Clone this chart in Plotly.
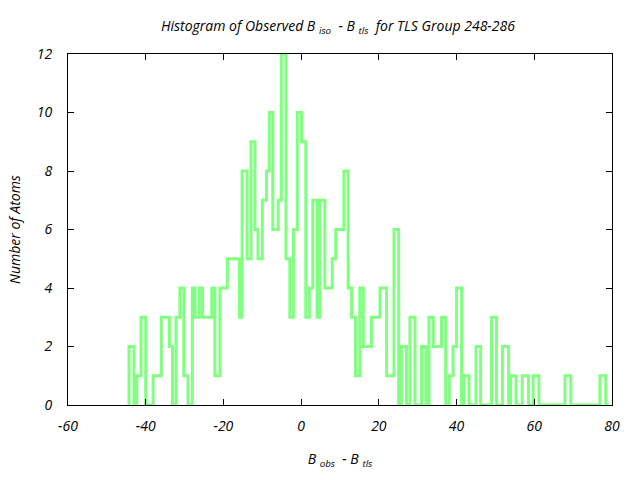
import plotly.graph_objects as go

# Bin edges (B_obs - B_tls) and atom counts
bin_edges = [-44.3, -43.0, -42.3, -41.2, -40.0, -38.1, -36.0, -33.9, -33.1, -32.2,
             -31.2, -30.2, -29.1, -28.0, -27.3, -26.2, -25.4, -23.0, -22.2, -20.9,
             -19.0, -15.9, -15.2, -13.9, -12.9, -11.9, -11.1, -10.0, -8.9, -8.2,
             -7.3, -5.9, -5.1, -3.9, -2.9, -2.0, -1.0, 0.1, 1.2, 2.1,
             3.0, 4.1, 4.8, 6.1, 8.0, 8.9, 11.0, 12.1, 13.0, 14.0,
             15.1, 16.0, 18.1, 20.3, 22.0, 23.9, 25.1, 25.8, 27.1, 28.0,
             29.3, 31.0, 32.1, 32.9, 34.0, 36.1, 37.2, 38.1, 39.1, 40.0,
             41.3, 41.9, 43.2, 45.0, 46.2, 49.0, 50.3, 51.8, 53.4, 53.9,
             55.3, 56.9, 58.5, 59.7, 61.2, 67.9, 69.4, 76.9, 78.4, 79.2]

counts = [2, 0, 1, 3, 0, 1, 3, 2, 0, 3,
          4, 1, 0, 4, 3, 4, 3, 4, 1, 4,
          5, 3, 8, 5, 9, 6, 5, 7, 8, 10,
          6, 7, 12, 5, 3, 6, 10, 9, 3, 4,
          7, 3, 7, 4, 5, 6, 8, 4, 3, 1,
          4, 2, 3, 4, 1, 6, 0, 2, 0, 3,
          0, 2, 0, 3, 2, 3, 0, 1, 2, 4,
          0, 1, 0, 2, 0, 3, 0, 2, 0, 1,
          0, 1, 0, 1, 0, 1, 0, 1, 0]

x_ticks = [-60, -40, -20, 0, 20, 40, 60, 80]
y_ticks = [0, 2, 4, 6, 8, 10, 12]

# step outline (histeps): start at zero, step through each bin, return to zero
xs = [bin_edges[0]] + bin_edges
ys = [0] + counts + [0]

FONT = "Open Sans"
FSIZE = 14

fig = go.Figure()
fig.add_trace(go.Scatter(
    x=xs, y=ys, mode="lines",
    line=dict(color="#80ff80", width=3, shape="hv"),
    showlegend=False, hoverinfo="skip",
))

axis_common = dict(
    showgrid=False, zeroline=False, showline=True, linecolor="black",
    linewidth=1, mirror="ticks", ticks="inside", ticklen=6, tickcolor="black",
    tickfont=dict(family=FONT, size=FSIZE, color="black", style="italic"),
)

fig.update_xaxes(
    range=[-60, 80], tickvals=x_ticks, ticktext=[str(v) for v in x_ticks],
    ticklabelstandoff=8,
    title=dict(text="B <sub>obs</sub>  - B <sub>tls</sub>", standoff=20,
               font=dict(family=FONT, size=FSIZE, color="black", style="italic")),
    **axis_common,
)
fig.update_yaxes(
    range=[0, 12], tickvals=y_ticks, ticktext=[str(v) for v in y_ticks],
    ticklabelstandoff=12,
    title=dict(text="Number of Atoms", standoff=12,
               font=dict(family=FONT, size=FSIZE, color="black", style="italic")),
    **axis_common,
)

fig.update_layout(
    width=640, height=480,
    margin=dict(l=68, r=28, t=54, b=75),
    paper_bgcolor="white", plot_bgcolor="white",
    title=dict(
        text="Histogram of Observed B <sub>iso</sub>  - B <sub>tls</sub>  for TLS Group 248-286",
        x=0.528, xanchor="center", y=0.945, yanchor="middle",
        font=dict(family=FONT, size=FSIZE, color="black", style="italic"),
    ),
)

fig.write_html("out.html")
